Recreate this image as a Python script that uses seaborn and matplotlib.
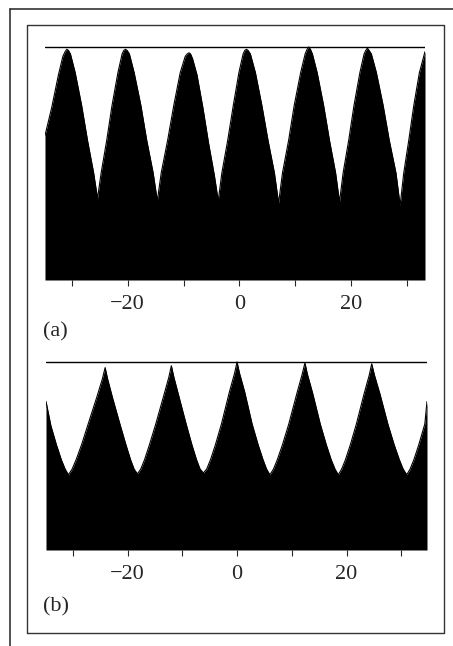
import numpy as np
import pandas as pd
import seaborn as sns
import matplotlib.pyplot as plt
from matplotlib.lines import Line2D

# panel (a): position and normalised height
xa = [-34.8, -33.6, -32.4, -31.6, -31.2, -30.9,
      -30.6, -30.25, -29.4, -28.25, -27.2, -26.1, -25.4,
      -24.75, -23.75, -22.8, -21.75, -21.0, -20.7, -20.4,
      -20.1, -19.7, -18.85, -17.65, -16.6, -15.45, -14.7,
      -14.0, -12.85, -11.75, -10.6, -9.7, -9.35, -9.05,
      -8.75, -8.4, -7.6, -6.55, -5.55, -4.5, -3.8,
      -3.15, -2.1, -1.1, -0.1, 0.65, 0.95, 1.25,
      1.55, 1.95, 2.85, 4.0, 5.1, 6.25, 7.0,
      7.7, 8.8, 9.8, 10.95, 11.75, 12.1, 12.4,
      12.7, 13.05, 13.9, 15.05, 16.1, 17.2, 17.9,
      18.55, 19.55, 20.5, 21.55, 22.3, 22.6, 22.9,
      23.2, 23.6, 24.5, 25.7, 26.8, 28.0, 28.75,
      29.4, 30.3, 31.2, 32.2, 33.2]
ya = [0.62, 0.74, 0.88, 0.96, 0.98, 0.99,
      0.985, 0.97, 0.89, 0.75, 0.60, 0.46, 0.35,
      0.46, 0.60, 0.75, 0.89, 0.97, 0.985, 0.99,
      0.985, 0.97, 0.89, 0.75, 0.60, 0.46, 0.34,
      0.46, 0.60, 0.75, 0.89, 0.96, 0.97, 0.975,
      0.97, 0.95, 0.88, 0.74, 0.59, 0.45, 0.34,
      0.46, 0.60, 0.75, 0.89, 0.97, 0.985, 0.99,
      0.985, 0.97, 0.89, 0.75, 0.60, 0.46, 0.33,
      0.46, 0.60, 0.75, 0.89, 0.97, 0.99, 1.0,
      0.99, 0.97, 0.89, 0.75, 0.60, 0.46, 0.335,
      0.46, 0.60, 0.75, 0.89, 0.97, 0.985, 0.995,
      0.985, 0.97, 0.89, 0.75, 0.60, 0.46, 0.32,
      0.46, 0.60, 0.75, 0.89, 0.98]

# panel (b)
xb = [-34.9, -34.0, -33.0, -32.1, -31.4, -30.8,
      -30.13, -29.4, -28.4, -27.2, -25.65, -24.6, -24.1,
      -23.65, -22.75, -21.4, -20.3, -19.45, -18.8, -18.2,
      -17.6, -16.9, -16.0, -14.85, -13.4, -12.45, -12.0,
      -11.55, -10.65, -9.3, -8.25, -7.4, -6.75, -6.15,
      -5.55, -4.85, -3.95, -2.85, -1.4, -0.45, 0.0,
      0.45, 1.4, 2.75, 3.85, 4.75, 5.4, 6.0,
      6.65, 7.35, 8.3, 9.45, 10.95, 11.9, 12.4,
      12.85, 13.8, 15.2, 16.3, 17.2, 17.9, 18.5,
      19.1, 19.8, 20.7, 21.8, 23.2, 24.15, 24.6,
      25.1, 26.1, 27.55, 28.7, 29.65, 30.35, 31.0,
      31.6, 32.3, 33.2, 34.3, 34.7]
yb = [0.79, 0.66, 0.56, 0.48, 0.43, 0.40,
      0.43, 0.48, 0.56, 0.67, 0.81, 0.91, 0.97,
      0.91, 0.81, 0.67, 0.56, 0.48, 0.43, 0.405,
      0.43, 0.48, 0.56, 0.67, 0.82, 0.92, 0.98,
      0.92, 0.82, 0.67, 0.56, 0.48, 0.43, 0.41,
      0.43, 0.48, 0.56, 0.67, 0.84, 0.94, 1.0,
      0.94, 0.84, 0.67, 0.56, 0.48, 0.43, 0.40,
      0.43, 0.48, 0.56, 0.67, 0.835, 0.935, 0.995,
      0.935, 0.835, 0.67, 0.56, 0.48, 0.43, 0.40,
      0.43, 0.48, 0.56, 0.67, 0.83, 0.93, 0.99,
      0.93, 0.83, 0.67, 0.56, 0.48, 0.43, 0.40,
      0.43, 0.48, 0.56, 0.67, 0.79]

tick_pos = [-30, -20, -10, 0, 10, 20, 30]
tick_lab = ["", "\u221220", "", "0", "", "20", ""]
ref_level = 1.0

sns.set_style("white")
plt.rcParams['font.family'] = 'serif'
plt.rcParams['font.serif'] = ['Liberation Serif', 'DejaVu Serif']

fig = plt.figure(figsize=(4.53, 6.46), dpi=100)

# 外枠
fig.add_artist(Line2D([10/453, 10/453], [0, 1-9/646], transform=fig.transFigure, color="#333", lw=1.2))
fig.add_artist(Line2D([10/453, 1], [1-9/646, 1-9/646], transform=fig.transFigure, color="#333", lw=1.2))
x0, x1, y0, y1 = 27/453, 444/453, 1-633/646, 1-25/646
fig.add_artist(Line2D([x0, x1, x1, x0, x0], [y0, y0, y1, y1, y0], transform=fig.transFigure, color="#333", lw=1.0))

panels = [
    (xa, ya, [45/453, 1-280/646, 380/453, 237.7/646], (-34.8, 33.2), "(a)", 1-332/646),
    (xb, yb, [46/453, 1-550/646, 381/453, 191.8/646], (-34.9, 34.7), "(b)", 1-607/646),
]

for xs, ys, rect, xlim, tag, ty in panels:
    ax = fig.add_axes(rect)
    df = pd.DataFrame({"x": xs, "y": ys})
    sns.lineplot(data=df, x="x", y="y", ax=ax, color="black", lw=0.8)
    ax.fill_between(df["x"], df["y"], 0, color="black", lw=0)
    ax.axhline(ref_level, color="black", lw=1.0)
    ax.set_xlim(*xlim)
    ax.set_ylim(0, 1.02)
    for s in ax.spines.values():
        s.set_visible(False)
    ax.set_xticks(tick_pos)
    ax.set_xticklabels(tick_lab)
    ax.set_yticks([])
    ax.tick_params(axis="x", bottom=True, length=4, width=0.8, pad=7, labelsize=16)
    ax.set_xlabel("")
    ax.set_ylabel("")
    fig.text(43/453, ty, tag, fontsize=16, va="center", ha="left")

plt.savefig("out.png", dpi=100)
plt.close()
